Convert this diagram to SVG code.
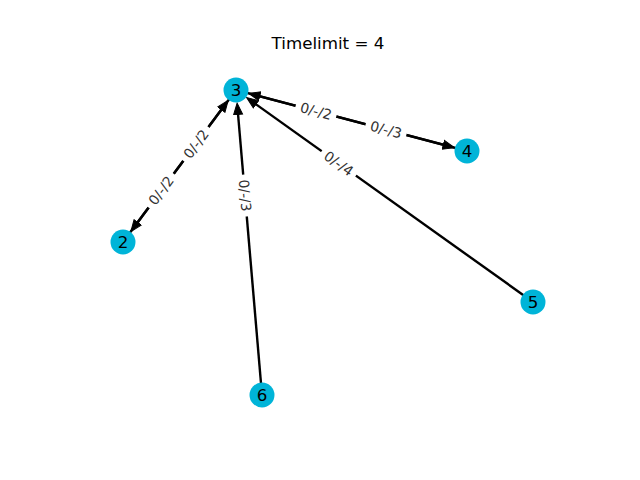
<svg xmlns="http://www.w3.org/2000/svg" width="640" height="480" viewBox="0 0 640 480">
  <style>
    .edge { stroke: #000; stroke-width: 2.4; fill: none; marker-end: url(#head); }
    .node circle { fill: #00b4d8; }
    .node text { font-family: "DejaVu Sans", sans-serif; font-size: 16.7px; fill: #000; text-anchor: middle; dominant-baseline: central; }
    .elabel rect { fill: #fff; }
    .elabel text { font-family: "DejaVu Sans", sans-serif; font-size: 13.9px; fill: #333; text-anchor: middle; dominant-baseline: central; }
    .title { font-family: "DejaVu Sans", sans-serif; font-size: 16.7px; fill: #000; text-anchor: middle; dominant-baseline: central; }
  </style>
  <defs>
    <!-- filled triangular arrowhead; refX lets the shaft stop inside the head -->
    <marker id="head" markerUnits="userSpaceOnUse" markerWidth="14" markerHeight="12" viewBox="0 -6 14 12" refX="6" refY="0" orient="auto">
      <path d="M0.5,-4.5 L12,0 L0.5,4.5 z" fill="#000" stroke="#000" stroke-width="1" stroke-linejoin="miter"/>
    </marker>
  </defs>
  <rect width="640" height="480" fill="#fff"/>
  <text class="title" x="328" y="43">Timelimit = 4</text>

  <g id="edges">
    <line class="edge" x1="236" y1="90" x2="134.4" y2="226.8"/>
    <line class="edge" x1="123" y1="242" x2="224.6" y2="105.2"/>
    <line class="edge" x1="236" y1="90" x2="448.6" y2="146.2"/>
    <line class="edge" x1="467" y1="151" x2="254.4" y2="94.8"/>
    <line class="edge" x1="533" y1="302" x2="251.5" y2="101.1"/>
    <line class="edge" x1="262" y1="395" x2="237.6" y2="109"/>
  </g>

  <g id="edge-labels">
    <g class="elabel" transform="translate(196,144) rotate(-53.4)">
      <rect x="-21" y="-10" width="42" height="20"/>
      <text x="0" y="0">0/-/2</text>
    </g>
    <g class="elabel" transform="translate(161,190.5) rotate(-53.4)">
      <rect x="-21" y="-10" width="42" height="20"/>
      <text x="0" y="0">0/-/2</text>
    </g>
    <g class="elabel" transform="translate(316,111) rotate(14.8)">
      <rect x="-21" y="-10" width="42" height="20"/>
      <text x="0" y="0">0/-/2</text>
    </g>
    <g class="elabel" transform="translate(386,129.6) rotate(14.8)">
      <rect x="-21" y="-10" width="42" height="20"/>
      <text x="0" y="0">0/-/3</text>
    </g>
    <g class="elabel" transform="translate(338.8,163.4) rotate(35.5)">
      <rect x="-21" y="-10" width="42" height="20"/>
      <text x="0" y="0">0/-/4</text>
    </g>
    <g class="elabel" transform="translate(245,195.5) rotate(85.1)">
      <rect x="-21" y="-10" width="42" height="20"/>
      <text x="0" y="0">0/-/3</text>
    </g>
  </g>

  <g id="node-2" class="node"><circle cx="123" cy="242" r="12.5"/><text x="123" y="242">2</text></g>
  <g id="node-3" class="node"><circle cx="236" cy="90" r="12.5"/><text x="236" y="90">3</text></g>
  <g id="node-4" class="node"><circle cx="467" cy="151" r="12.5"/><text x="467" y="151">4</text></g>
  <g id="node-5" class="node"><circle cx="533" cy="302" r="12.5"/><text x="533" y="302">5</text></g>
  <g id="node-6" class="node"><circle cx="262" cy="395" r="12.5"/><text x="262" y="395">6</text></g>
</svg>
